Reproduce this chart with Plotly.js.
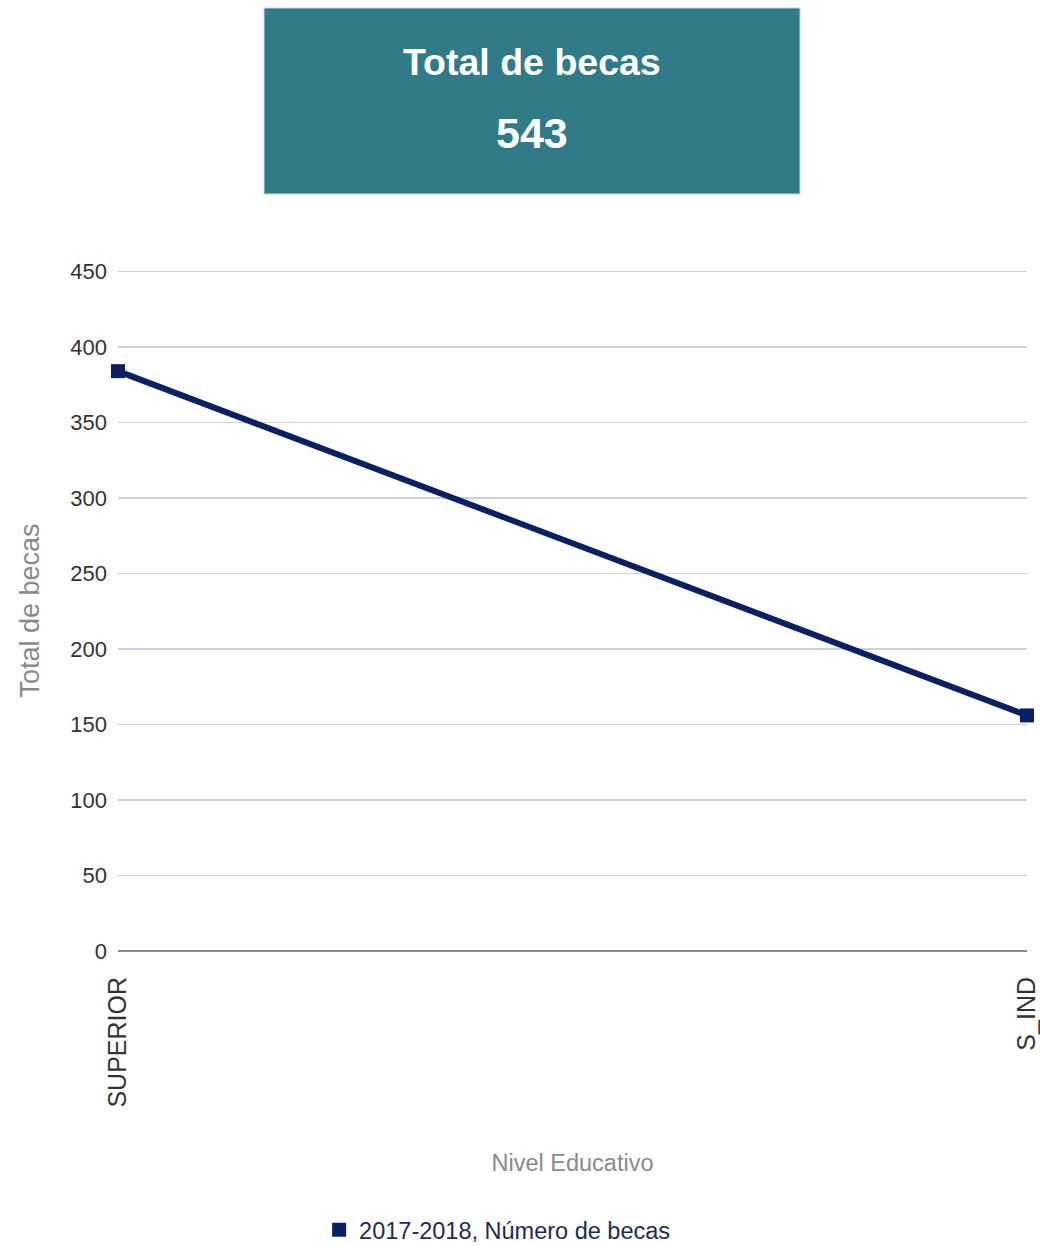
<!DOCTYPE html>
<html>
<head>
<meta charset="utf-8">
<script src="https://cdn.plot.ly/plotly-3.0.1.min.js"></script>
<style>html,body{margin:0;padding:0;background:#fff;}#chart{width:1040px;height:1246px;}</style>
</head>
<body>
<div id="chart"></div>
<script>
const categories = ["SUPERIOR", "S_IND"];
const becas = [384, 156];
const seriesName = "2017-2018, Número de becas";
const totalLabel = "Total de becas";
const totalValue = 543;
const yTicks = [0, 50, 100, 150, 200, 250, 300, 350, 400, 450];

const font = "Liberation Sans, Arial, sans-serif";
const navy = "#0b1f63";

const lineTrace = {
  x: categories,
  y: becas,
  type: "scatter",
  mode: "lines",
  name: seriesName,
  showlegend: false,
  cliponaxis: false,
  line: {color: navy, width: 6}
};
const markerTrace = {
  x: categories,
  y: becas,
  type: "scatter",
  mode: "markers",
  name: seriesName,
  showlegend: true,
  cliponaxis: false,
  marker: {symbol: "square", size: 14, color: navy}
};

const layout = {
  width: 1040,
  height: 1246,
  margin: {l: 118, r: 13, t: 270, b: 295, autoexpand: false},
  paper_bgcolor: "#ffffff",
  plot_bgcolor: "#ffffff",
  showlegend: true,
  legend: {
    orientation: "h",
    xref: "container", yref: "container",
    x: 0.478, xanchor: "center",
    y: (1246 - 1230) / 1246, yanchor: "middle",
    itemwidth: 30,
    font: {family: font, size: 23.5, color: "#1f2a55"}
  },
  xaxis: {
    type: "category",
    range: [0, 1],
    tickangle: -90,
    showgrid: false,
    zeroline: false,
    showline: false,
    ticks: "",
    ticklabelstandoff: 20,
    tickfont: {family: font, size: 25, color: "#333333"},
    title: {text: "Nivel Educativo", font: {family: font, size: 23.5, color: "#8a8a8a"}, standoff: 47}
  },
  yaxis: {
    range: [0, 451],
    tickvals: yTicks,
    ticktext: yTicks.map(String),
    showgrid: true,
    gridcolor: "#c9d2de",
    gridwidth: 1.5,
    zeroline: true,
    zerolinecolor: "#8c8c8c",
    zerolinewidth: 1.5,
    ticks: "",
    ticklabelstandoff: 10,
    tickfont: {family: font, size: 22, color: "#333333"},
    title: {text: "Total de becas", font: {family: font, size: 27, color: "#8a8a8a"}, standoff: 22}
  },
  shapes: [{
    type: "rect", xref: "paper", yref: "paper",
    x0: (264 - 118) / 909, x1: (800 - 118) / 909,
    y0: (951 - 194) / 681, y1: (951 - 8) / 681,
    fillcolor: "#317b88",
    line: {color: "#c6d6da", width: 1}
  }],
  annotations: [
    {xref: "paper", yref: "paper", x: (532 - 118) / 909, y: (951 - 62) / 681,
     text: "<b>" + totalLabel + "</b>", showarrow: false,
     font: {family: font, size: 37.5, color: "#ffffff"}, xanchor: "center", yanchor: "middle"},
    {xref: "paper", yref: "paper", x: (532 - 118) / 909, y: (951 - 133) / 681,
     text: "<b>" + totalValue + "</b>", showarrow: false,
     font: {family: font, size: 43, color: "#ffffff"}, xanchor: "center", yanchor: "middle"}
  ]
};

Plotly.newPlot("chart", [lineTrace, markerTrace], layout, {displayModeBar: false, staticPlot: true});
</script>
</body>
</html>
